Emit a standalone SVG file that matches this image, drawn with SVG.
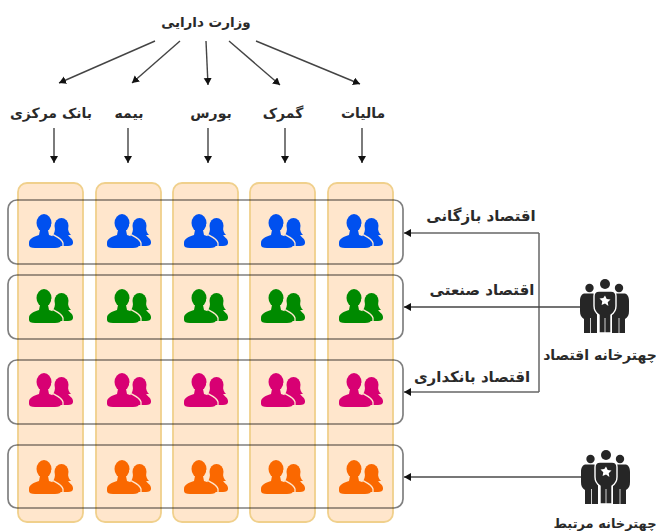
<svg xmlns="http://www.w3.org/2000/svg" width="656" height="532" viewBox="0 0 656 532">
<style>
.col{fill:#ffe6cc;stroke:#f0d08c;stroke-width:1.800}
.row{fill:none;stroke:#000;stroke-opacity:.5;stroke-width:1.700}
.lbl{font-family:"DejaVu Sans",sans-serif;font-size:14px;font-weight:700;fill:#2a2a2a;text-anchor:middle;direction:rtl}
.con{fill:none;stroke:#444;stroke-width:1.400;marker-end:url(#ah)}
.conl{fill:none;stroke:#666;stroke-width:1.500}
.blue{fill:#0050ef}.green{fill:#008a00}.mag{fill:#d80073}.org{fill:#fa6800}
</style>
<defs>
<marker id="ah" markerUnits="userSpaceOnUse" markerWidth="10" markerHeight="10" refX="7" refY="4" orient="auto"><path d="M0 0L7 4L0 8Z" fill="#111"/></marker>
<symbol id="people" overflow="visible">
<ellipse cx="43.500" cy="26" rx="7" ry="8"/>
<path d="M37 27C37 31 36.500 33 35 35H53C51 33 50 31 50 27Z"/>
<path d="M35 34H50C50 37 55 38 55 42V43C55 45 53 46 50 46H32Z"/>
<ellipse cx="26" cy="23" rx="7.500" ry="9"/>
<path d="M22 30L21 35C15 37 11 39 11 43V45C11 47 13 48 17 48H37C41 48 43 47 43 45V43C43 39 37 37 31 35L30 30Z"/>
<path d="M34 24C34 29 33 31 32 33C35.500 35.500 43.500 37.500 45 43V47" fill="none" stroke="#ffe6cc" stroke-width="1.300"/>
</symbol>
<symbol id="crowd" overflow="visible">
<g fill="#262626">
<circle cx="-15.500" cy="4" r="4.200"/><circle cx="14" cy="4" r="4.200"/><circle cx="0" cy="0" r="5"/>
<path d="M-20 9.500H-12C-9 10-9 13-10 16C-11 21-11 25-8 29L-8 49H-21V35C-24 33-25 31-25 27V17C-25 12-23 9.500-20 9.500Z"/>
<path d="M19 9.500H11C8 10 8 13 9 16C10 21 10 25 7 29L7 49H20V35C23 33 24 31 24 27V17C24 12 22 9.500 19 9.500Z"/>
<path d="M-6 7H6C9 7 11 9 11 12V22C11 26 9 29 6 31V49H-6V31C-9 29-11 26-11 22V12C-11 9-9 7-6 7Z" stroke="#fff" stroke-width="1.400"/>
</g>
<path d="M-14.500 34V49M0 34V49M14 34V49" stroke="#fff" stroke-width=".8" fill="none"/>
<path d="M0 11.500l1.700 3.500 3.800.5-2.800 2.700.7 3.800L0 19.500l-3.400 1.500.7-3.800-2.800-2.700 3.800-.5Z" fill="#fff"/>
</symbol>
</defs>
<rect width="656" height="532" fill="#fff"/>
<g id="connectors">
<path class="con" d="M155 41L59 83"/>
<path class="con" d="M180 41L132 83"/>
<path class="con" d="M206 41L208 85"/>
<path class="con" d="M229 41L280 85"/>
<path class="con" d="M256 41L360 84"/>
<path class="con" d="M54 128V163"/>
<path class="con" d="M128 128V163"/>
<path class="con" d="M208 128V163"/>
<path class="con" d="M285 128V163"/>
<path class="con" d="M362 128V163"/>
<path class="con" style="stroke:#666" d="M539 233H404"/>
<path class="conl" d="M539 233V392"/>
<path class="con" style="stroke:#666" d="M539 392H404"/>
<path class="con" d="M580 307H404"/>
<path class="con" style="stroke:#777;stroke-width:2" d="M581 477H404"/>
</g>
<g id="col1"><rect class="col" x="18" y="183" width="65" height="339" rx="9"/></g>
<g id="col2"><rect class="col" x="96" y="183" width="65" height="339" rx="9"/></g>
<g id="col3"><rect class="col" x="173" y="183" width="65" height="339" rx="9"/></g>
<g id="col4"><rect class="col" x="250" y="183" width="65" height="339" rx="9"/></g>
<g id="col5"><rect class="col" x="328" y="183" width="65" height="339" rx="9"/></g>
<g id="row1"><rect class="row" x="8" y="200" width="395" height="64" rx="9"/></g>
<g id="row2"><rect class="row" x="8" y="275" width="395" height="64" rx="9"/></g>
<g id="row3"><rect class="row" x="8" y="360" width="395" height="64" rx="9"/></g>
<g id="row4"><rect class="row" x="8" y="445" width="395" height="63" rx="9"/></g>
<g id="people-row1" class="blue">
<use href="#people" x="18" y="200"/><use href="#people" x="96" y="200"/><use href="#people" x="173" y="200"/><use href="#people" x="250" y="200"/><use href="#people" x="328" y="200"/>
</g>
<g id="people-row2" class="green">
<use href="#people" x="18" y="275"/><use href="#people" x="96" y="275"/><use href="#people" x="173" y="275"/><use href="#people" x="250" y="275"/><use href="#people" x="328" y="275"/>
</g>
<g id="people-row3" class="mag">
<use href="#people" x="18" y="359"/><use href="#people" x="96" y="359"/><use href="#people" x="173" y="359"/><use href="#people" x="250" y="359"/><use href="#people" x="328" y="359"/>
</g>
<g id="people-row4" class="org">
<use href="#people" x="18" y="446"/><use href="#people" x="96" y="446"/><use href="#people" x="173" y="446"/><use href="#people" x="250" y="446"/><use href="#people" x="328" y="446"/>
</g>
<g id="crowd1"><use href="#crowd" x="605" y="284"/></g>
<g id="crowd2"><use href="#crowd" x="606" y="455"/></g>
<g id="labels">
<text class="lbl" x="206" y="27" style="font-size:13.500px">وزارت دارایی</text>
<text class="lbl" x="51" y="118">بانک مرکزی</text>
<text class="lbl" x="129" y="118">بیمه</text>
<text class="lbl" x="211" y="118">بورس</text>
<text class="lbl" x="283" y="118">گمرک</text>
<text class="lbl" x="363" y="118">مالیات</text>
<text class="lbl" x="481" y="221" style="font-size:15px">اقتصاد بازگانی</text>
<text class="lbl" x="482" y="295" style="font-size:15px">اقتصاد صنعتی</text>
<text class="lbl" x="472" y="382" style="font-size:15px">اقتصاد بانکداری</text>
<text class="lbl" x="600" y="360">چهترخانه اقتصاد</text>
<text class="lbl" x="605" y="528" style="font-size:13px">چهترخانه مرتبط</text>
</g>
</svg>
